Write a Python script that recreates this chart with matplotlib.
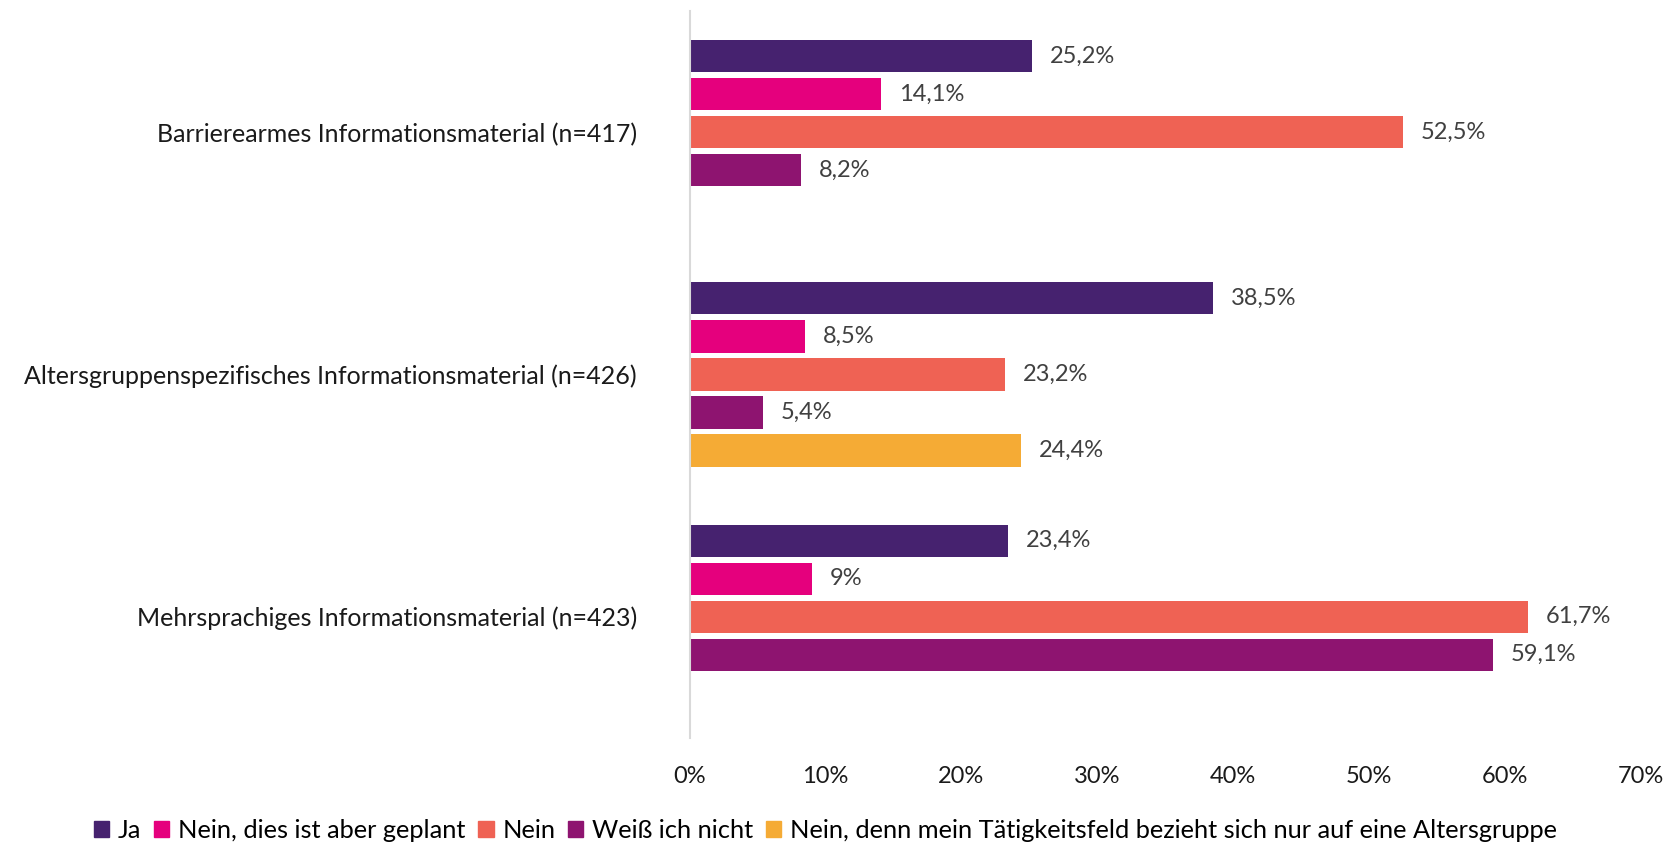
import numpy as np
import matplotlib.pyplot as plt
from matplotlib.patches import Patch

plt.rcParams['font.family'] = ['Lato', 'DejaVu Sans']

categories = ['Barrierearmes Informationsmaterial (n=417)',
              'Altersgruppenspezifisches Informationsmaterial (n=426)',
              'Mehrsprachiges Informationsmaterial (n=423)']
series_names = ['Ja', 'Nein, dies ist aber geplant', 'Nein', 'Weiß ich nicht',
                'Nein, denn mein Tätigkeitsfeld bezieht sich nur auf eine Altersgruppe']
ja = [25.2, 38.5, 23.4]
geplant = [14.1, 8.5, 9.0]
nein = [52.5, 23.2, 61.7]
weiss = [8.2, 5.4, 59.1]
altersgruppe = [None, 24.4, None]
colors = ['#46226F', '#E5007D', '#EF6254', '#8E1470', '#F5AB35']

series = [ja, geplant, nein, weiss, altersgruppe]


def fmt(v):
    s = f'{v:.1f}'.rstrip('0').rstrip('.')
    return s.replace('.', ',') + '%'


fig = plt.figure(figsize=(16.78, 8.51), dpi=100)
ax = fig.add_axes([0.411, 0.133, 0.567, 0.854])

y = np.arange(len(categories))
step = 0.157
for i, (vals, col) in enumerate(zip(series, colors)):
    off = (i - 2) * step
    for j, v in enumerate(vals):
        if v is None:
            continue
        ax.barh(y[j] + off, v, height=0.133, color=col)
        ax.text(v + 1.3, y[j] + off, fmt(v), va='center', ha='left',
                fontsize=17, color='#404040')

ax.set_ylim(2.5, -0.5)
ax.set_xlim(0, 70)
ax.set_yticks(y)
ax.set_yticklabels(categories, fontsize=18, color='#1a1a1a')
ax.set_xticks(range(0, 71, 10))
ax.set_xticklabels([f'{t}%' for t in range(0, 71, 10)], fontsize=17, color='#1a1a1a')
ax.tick_params(axis='both', length=0)
ax.tick_params(axis='y', pad=38)
ax.tick_params(axis='x', pad=20)
for s in ['top', 'right', 'bottom']:
    ax.spines[s].set_visible(False)
ax.spines['left'].set_color('#d9d9d9')
ax.spines['left'].set_linewidth(1.5)

handles = [Patch(color=c, label=n) for c, n in zip(colors, series_names)]
fig.legend(handles=handles, loc='lower center', bbox_to_anchor=(0.492, -0.016), ncol=5,
           frameon=False, fontsize=18.3, handlelength=0.6, handleheight=0.6,
           handletextpad=0.35, columnspacing=0.5)

fig.savefig('out.png', dpi=100)
